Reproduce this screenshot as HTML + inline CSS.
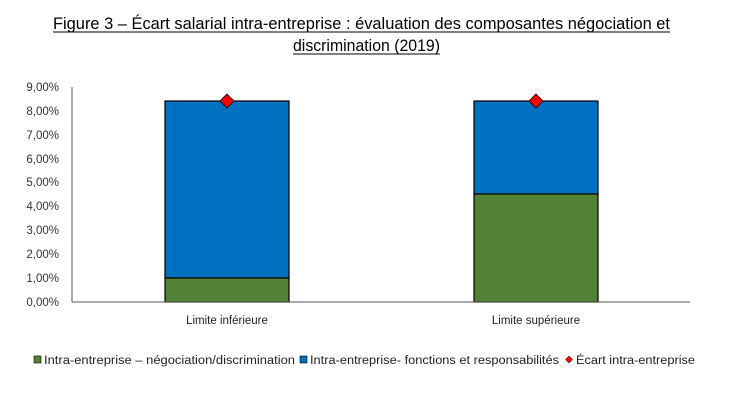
<!DOCTYPE html>
<html><head><meta charset="utf-8"><style>body{margin:0;background:#fff}svg{display:block}</style></head>
<body>
<svg width="730" height="410" viewBox="0 0 730 410" xmlns="http://www.w3.org/2000/svg" font-family="Liberation Sans, sans-serif">
<rect width="730" height="410" fill="#fff"/>
<text x="53" y="29" font-size="17" fill="#000" textLength="617" lengthAdjust="spacingAndGlyphs">Figure 3 – Écart salarial intra-entreprise : évaluation des composantes négociation et</text>
<line x1="53" y1="32" x2="670" y2="32" stroke="#000" stroke-width="1"/>
<text x="293" y="51" font-size="17" fill="#000" textLength="147" lengthAdjust="spacingAndGlyphs">discrimination (2019)</text>
<line x1="293" y1="54" x2="440" y2="54" stroke="#000" stroke-width="1"/>
<g font-size="11.5" fill="#333" text-anchor="end">
<text x="59" y="306">0,00%</text><text x="59" y="282">1,00%</text><text x="59" y="258">2,00%</text><text x="59" y="234">3,00%</text><text x="59" y="210">4,00%</text><text x="59" y="186">5,00%</text><text x="59" y="163">6,00%</text><text x="59" y="139">7,00%</text><text x="59" y="115">8,00%</text><text x="59" y="91">9,00%</text>
</g>
<rect x="165" y="101" width="124" height="177" fill="#0070c0" stroke="#000" stroke-width="1.2"/>
<rect x="165" y="278" width="124" height="24" fill="#548235" stroke="#000" stroke-width="1.2"/>
<rect x="474" y="101" width="124" height="93" fill="#0070c0" stroke="#000" stroke-width="1.2"/>
<rect x="474" y="194" width="124" height="108" fill="#548235" stroke="#000" stroke-width="1.2"/>
<line x1="72" y1="87" x2="72" y2="302" stroke="#555" stroke-width="1"/>
<line x1="72" y1="302" x2="690" y2="302" stroke="#555" stroke-width="1"/>
<polygon points="227,94 234,101 227,108 220,101" fill="#f00" stroke="#000" stroke-width="0.8"/>
<polygon points="536,94 543,101 536,108 529,101" fill="#f00" stroke="#000" stroke-width="0.8"/>
<g font-size="11.5" fill="#222" text-anchor="middle">
<text x="227" y="324">Limite inférieure</text>
<text x="536" y="324">Limite supérieure</text>
</g>
<rect x="34" y="356" width="7" height="7" fill="#548235" stroke="#000" stroke-width="0.6"/>
<text x="44" y="364" font-size="11.5" fill="#222" textLength="251" lengthAdjust="spacingAndGlyphs">Intra-entreprise – négociation/discrimination</text>
<rect x="300" y="356" width="7" height="7" fill="#0070c0" stroke="#000" stroke-width="0.6"/>
<text x="310" y="364" font-size="11.5" fill="#222" textLength="249" lengthAdjust="spacingAndGlyphs">Intra-entreprise- fonctions et responsabilités</text>
<polygon points="569,356 572.5,359.5 569,363 565.5,359.5" fill="#f00" stroke="#000" stroke-width="0.5"/>
<text x="576" y="364" font-size="11.5" fill="#222" textLength="119" lengthAdjust="spacingAndGlyphs">Écart intra-entreprise</text>
</svg>
</body></html>
